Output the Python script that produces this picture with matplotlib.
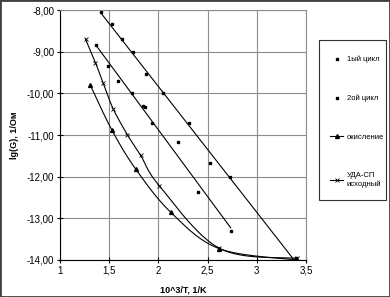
import numpy as np
import matplotlib.pyplot as plt
from matplotlib.patches import Rectangle
from matplotlib.ticker import FuncFormatter

plt.rcParams['font.family'] = ['Liberation Sans', 'DejaVu Sans']

# 1ый цикл (markers + linear trend)
cycle1_x = [1.42, 1.525, 1.633, 1.745, 1.87, 2.05, 2.31, 2.52, 2.73, 3.40]
cycle1_y = [-8.05, -8.34, -8.70, -9.01, -9.54, -10.00, -10.72, -11.68, -12.00, -13.95]

# 2ой цикл (markers + linear trend)
cycle2_x = [1.37, 1.49, 1.59, 1.73, 1.84, 1.86, 1.94, 2.20, 2.405, 2.735]
cycle2_y = [-8.83, -9.35, -9.70, -10.00, -10.31, -10.32, -10.71, -11.17, -12.38, -13.30]

# окисление (smoothed line)
oxid_x = [1.31, 1.525, 1.77, 2.128, 2.62, 3.405]
oxid_y = [-9.81, -10.87, -11.82, -12.86, -13.73, -14.00]

# УДА-СП исходный (smoothed line)
uda_x = [1.26, 1.36, 1.44, 1.54, 1.684, 1.82, 2.01, 2.62, 3.405]
uda_y = [-8.70, -9.26, -9.76, -10.37, -10.99, -11.49, -12.22, -13.72, -13.96]

labels = ["1ый цикл", "2ой цикл", "окисление", "УДА-СП\nисходный"]


def excel_smooth(x, y, n=40):
    # bezier segments like Excel's "smoothed line"
    px = np.concatenate([[x[0]], x, [x[-1]]]).astype(float)
    py = np.concatenate([[y[0]], y, [y[-1]]]).astype(float)
    t = np.linspace(0, 1, n)
    xs, ys = [], []
    for i in range(1, len(px) - 2):
        p0 = np.array([px[i - 1], py[i - 1]])
        p1 = np.array([px[i], py[i]])
        p2 = np.array([px[i + 1], py[i + 1]])
        p3 = np.array([px[i + 2], py[i + 2]])
        c1 = p1 + (p2 - p0) / 6
        c2 = p2 - (p3 - p1) / 6
        pts = ((1 - t) ** 3)[:, None] * p1 + (3 * (1 - t) ** 2 * t)[:, None] * c1 \
            + (3 * (1 - t) * t ** 2)[:, None] * c2 + (t ** 3)[:, None] * p2
        xs.extend(pts[:, 0])
        ys.extend(pts[:, 1])
    return xs, ys


fig = plt.figure(figsize=(3.9, 2.97), dpi=100)
ax = fig.add_axes([0.1538, 0.1246, 0.6308, 0.8417])

# trend lines
for xs, ys in [(cycle1_x, cycle1_y), (cycle2_x, cycle2_y)]:
    k, b = np.polyfit(xs, ys, 1)
    xx = np.array([min(xs), max(xs)])
    ax.plot(xx, k * xx + b, color='black', lw=0.8)

h1, = ax.plot(cycle1_x, cycle1_y, 's', color='black', ms=1.8, label=labels[0])
h2, = ax.plot(cycle2_x, cycle2_y, 's', color='black', ms=2.0, label=labels[1])

sx, sy = excel_smooth(oxid_x, oxid_y)
ax.plot(sx, sy, color='black', lw=0.8)
ax.plot(oxid_x, oxid_y, '^', color='black', ms=2.8)
h3, = ax.plot([], [], '-^', color='black', lw=0.8, ms=2.8, label=labels[2])

sx, sy = excel_smooth(uda_x, uda_y)
ax.plot(sx, sy, color='black', lw=0.8)
ax.plot(uda_x, uda_y, 'x', color='black', ms=3.0, mew=0.6)
h4, = ax.plot([], [], '-x', color='black', lw=0.8, ms=3.0, mew=0.6, label=labels[3])

ax.set_xlim(1, 3.5)
ax.set_ylim(-14, -8)
ax.set_xticks(np.arange(1, 3.51, 0.5))
ax.set_yticks(np.arange(-14, -7.99, 1))
ax.xaxis.set_major_formatter(FuncFormatter(lambda v, p: f"{v:g}".replace('.', ',')))
ax.yaxis.set_major_formatter(FuncFormatter(lambda v, p: f"{v:.2f}".replace('.', ',')))
ax.tick_params(direction='inout', length=4, width=0.8, labelsize=7, pad=2)
ax.grid(True, color='#8c8c8c', lw=0.8)
ax.set_axisbelow(True)
for s in ['top', 'right']:
    ax.spines[s].set_color('#8c8c8c')
for s in ['left', 'bottom']:
    ax.spines[s].set_color('black')
    ax.spines[s].set_linewidth(0.8)

ax.set_xlabel("10^3/T, 1/K", fontsize=6.5, fontweight='bold', labelpad=7)
ax.set_ylabel("lg(G), 1/Ом", fontsize=6.5, fontweight='bold', labelpad=6)

# legend box
fig.patches.append(Rectangle((0.818, 0.327), 0.172, 0.538, transform=fig.transFigure,
                             fill=False, edgecolor='#303030', lw=0.8))
fig.legend(handles=[h1, h2, h3, h4], loc='upper left', bbox_to_anchor=(0.818, 0.85),
           frameon=False, fontsize=5.5, labelspacing=4.1, handlelength=1.6,
           handletextpad=0.5, borderpad=1.0)

fig.patches.append(Rectangle((0, 0), 1, 1, transform=fig.transFigure,
                             fill=False, edgecolor='#404040', lw=2))

fig.savefig('out.png', dpi=100)
